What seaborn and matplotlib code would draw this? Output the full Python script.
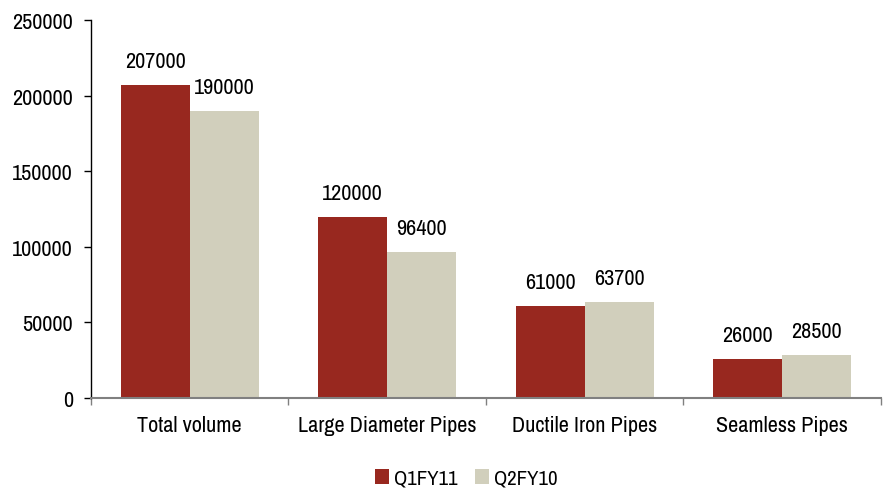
import pandas as pd
import matplotlib.pyplot as plt
import matplotlib.font_manager as fm
import seaborn as sns

categories = ["Total volume", "Large Diameter Pipes", "Ductile Iron Pipes", "Seamless Pipes"]
q1fy11 = [207000, 120000, 61000, 26000]
q2fy10 = [190000, 96400, 63700, 28500]
series_names = ["Q1FY11", "Q2FY10"]
colors = ["#98281F", "#D1CFBC"]

df = pd.DataFrame({
    "category": categories * 2,
    "value": q1fy11 + q2fy10,
    "series": [series_names[0]] * 4 + [series_names[1]] * 4,
})

sns.set_style("white")
# look for a narrow face, like the condensed font of the original
narrow = [f for f in fm.fontManager.ttflist if ("Narrow" in f.name or "Condensed" in f.name)]
fam = narrow[0].name if narrow else "DejaVu Sans"
plt.rcParams["font.family"] = [fam, "DejaVu Sans"]
plt.rcParams["text.color"] = "black"
plt.rcParams["xtick.color"] = "black"
plt.rcParams["ytick.color"] = "black"
fs = 16

fig = plt.figure(figsize=(8.9, 4.89), dpi=100)
ax = fig.add_axes([0.1022, 0.184, 0.8877, 0.773])
sns.barplot(data=df, x="category", y="value", hue="series", palette=colors,
            width=0.7, gap=0, saturation=1, linewidth=0, ax=ax, legend=True)

for cont in ax.containers:
    ax.bar_label(cont, labels=[f"{int(v)}" for v in cont.datavalues],
                 padding=10, fontsize=fs)

ax.set_xlim(-0.5, 3.5)
ax.set_ylim(0, 250000)
ax.set_yticks(range(0, 250001, 50000))
ax.set_xlabel("")
ax.set_ylabel("")
ax.tick_params(axis="y", length=5, width=1, color="black", labelsize=fs, direction="out", left=True, pad=8)
ax.tick_params(axis="x", length=0, labelsize=fs, pad=12)
ax.set_xticks([-0.5, 0.5, 1.5, 2.5, 3.5], minor=True)
ax.tick_params(axis="x", which="minor", length=5, width=1, color="#808080", bottom=True)
for s in ["top", "right"]:
    ax.spines[s].set_visible(False)
ax.spines["left"].set_color("black")
ax.spines["left"].set_linewidth(1)
ax.spines["bottom"].set_color("#808080")
ax.spines["bottom"].set_linewidth(1.5)

handles, labels = ax.get_legend_handles_labels()
ax.get_legend().remove()
fig.legend(handles, labels, loc="lower center", bbox_to_anchor=(0.524, -0.038), ncol=2, frameon=False,
           fontsize=15, handlelength=0.68, handleheight=0.68, handletextpad=0.25, columnspacing=0.8)

fig.savefig("out.png", dpi=100)
